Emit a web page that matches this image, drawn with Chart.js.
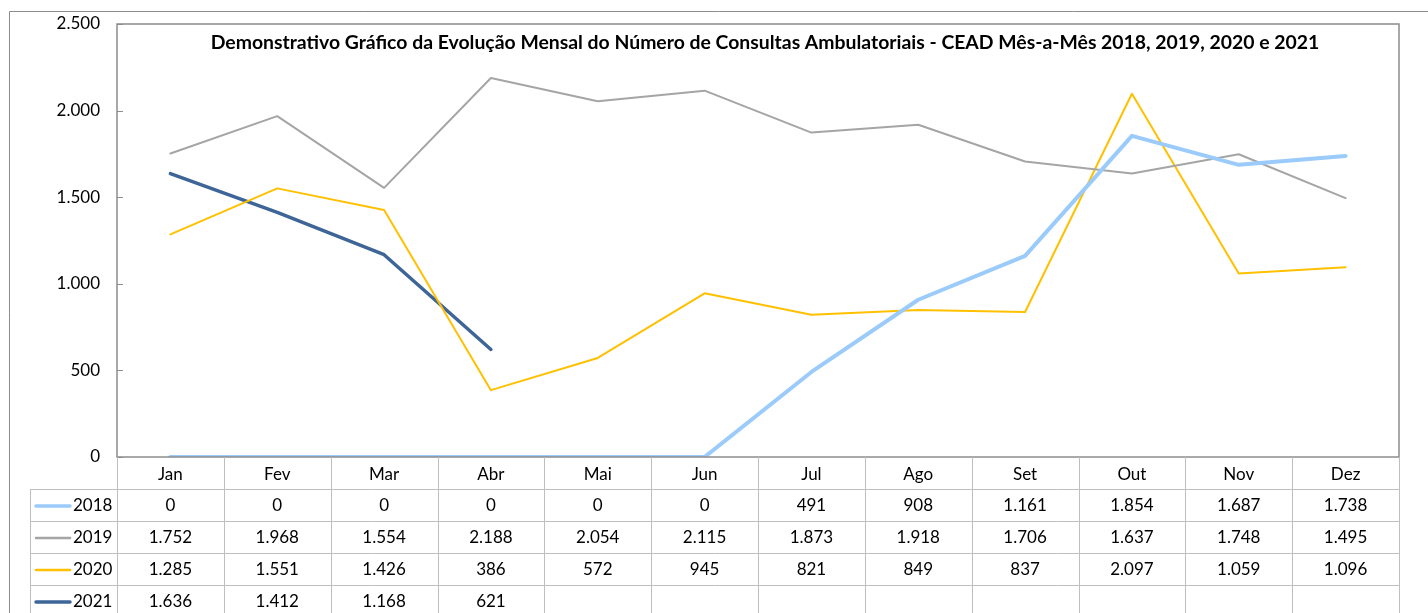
<!DOCTYPE html>
<html lang="pt">
<head>
  <meta charset="UTF-8" />
  <title>Consultas Ambulatoriais - CEAD</title>
  <script src="https://cdn.jsdelivr.net/npm/chart.js"></script>
  <style>
    body { margin: 0; background: #fff; }
    #wrap { width: 1428px; height: 613px; position: relative; }
  </style>
</head>
<body>
<div id="wrap"><canvas id="chart"></canvas></div>

<script>
const months = ["Jan", "Fev", "Mar", "Abr", "Mai", "Jun", "Jul", "Ago", "Set", "Out", "Nov", "Dez"];
const years = ["2018", "2019", "2020", "2021"];
const v2018 = [0, 0, 0, 0, 0, 0, 491, 908, 1161, 1854, 1687, 1738];
const v2019 = [1752, 1968, 1554, 2188, 2054, 2115, 1873, 1918, 1706, 1637, 1748, 1495];
const v2020 = [1285, 1551, 1426, 386, 572, 945, 821, 849, 837, 2097, 1059, 1096];
const v2021 = [1636, 1412, 1168, 621, null, null, null, null, null, null, null, null];
const yTicks = [0, 500, 1000, 1500, 2000, 2500];
const titleText = "Demonstrativo Gráfico da Evolução Mensal do Número de Consultas Ambulatoriais - CEAD Mês-a-Mês 2018, 2019, 2020 e 2021";

const colors = ["#9ACBFB", "#A5A5A5", "#FFC000", "#3E6597"];
const widths = [4, 2, 2, 3.5];
const FONT = "Lato, 'Liberation Sans', sans-serif";

// 1.234 style numbers
function fmt(v) {
  return String(v).replace(/\B(?=(\d{3})+(?!\d))/g, ".");
}

// outer frame, plot border, title and the data table under the chart
const tablePlugin = {
  id: "tablePlugin",
  beforeDraw(chart) {
    const ctx = chart.ctx;
    ctx.save();
    ctx.strokeStyle = "#8C8C8C";
    ctx.lineWidth = 1;
    ctx.beginPath();
    ctx.moveTo(9.5, 613); ctx.lineTo(9.5, 11.5); ctx.lineTo(1428, 11.5);
    ctx.stroke();
    ctx.restore();
  },
  afterDatasetsDraw(chart) {
    const ctx = chart.ctx;
    const a = chart.chartArea;
    const xs = chart.scales.x;
    const ys = chart.scales.y;
    ctx.save();

    // plot border
    ctx.strokeStyle = "#8C8C8C";
    ctx.lineWidth = 1.5;
    ctx.strokeRect(a.left, a.top, a.right - a.left, a.bottom - a.top);

    // inward y ticks
    ctx.lineWidth = 1;
    yTicks.forEach(t => {
      const y = Math.round(ys.getPixelForValue(t)) + 0.5;
      ctx.beginPath(); ctx.moveTo(a.left, y); ctx.lineTo(a.left + 6, y); ctx.stroke();
    });

    // title, sized so it spans like the original
    ctx.fillStyle = "#000";
    ctx.font = "bold 17px " + FONT;
    const w = ctx.measureText(titleText).width;
    const size = Math.min(20, 17 * 1108 / w);
    ctx.font = "bold " + size.toFixed(1) + "px " + FONT;
    ctx.textAlign = "center";
    ctx.textBaseline = "middle";
    ctx.fillText(titleText, 765, 43);

    // table grid
    const colW = (a.right - a.left) / months.length;
    const rowH = 32;
    const top = a.bottom;
    const headBottom = top + 32;
    ctx.strokeStyle = "#BFBFBF";
    ctx.lineWidth = 1;
    for (let k = 0; k <= months.length; k++) {
      const x = Math.round(a.left + k * colW) + 0.5;
      ctx.beginPath(); ctx.moveTo(x, top); ctx.lineTo(x, 613); ctx.stroke();
    }
    ctx.beginPath(); ctx.moveTo(30.5, headBottom); ctx.lineTo(30.5, 613); ctx.stroke();
    for (let r = 0; r <= years.length - 1; r++) {
      const y = headBottom + r * rowH + 0.5;
      ctx.beginPath(); ctx.moveTo(30, y); ctx.lineTo(a.right, y); ctx.stroke();
    }

    // rows
    ctx.font = "17px " + FONT;
    chart.data.datasets.forEach((ds, r) => {
      const cy = headBottom + r * rowH + rowH / 2 + 1;
      ctx.strokeStyle = colors[r];
      ctx.lineWidth = widths[r] > 3 ? 3.5 : 2.5;
      ctx.lineCap = "round";
      ctx.beginPath(); ctx.moveTo(36, cy); ctx.lineTo(70, cy); ctx.stroke();
      ctx.fillStyle = "#000";
      ctx.textAlign = "left";
      ctx.fillText(ds.label, 73, cy);
      ctx.textAlign = "center";
      ds.data.forEach((v, i) => {
        if (v === null) return;
        ctx.fillText(fmt(v), xs.getPixelForValue(i), cy);
      });
    });
    ctx.restore();
  }
};

const series = [v2018, v2019, v2020, v2021];

new Chart(document.getElementById("chart"), {
  type: "line",
  data: {
    labels: months,
    datasets: series.map((s, i) => ({
      label: years[i],
      data: s,
      borderColor: colors[i],
      backgroundColor: colors[i],
      borderWidth: widths[i],
      borderCapStyle: "round",
      borderJoinStyle: "round",
      pointRadius: 0,
      tension: 0,
      spanGaps: false
    }))
  },
  options: {
    responsive: true,
    maintainAspectRatio: false,
    animation: false,
    layout: { padding: { top: 24, right: 29, left: 0, bottom: 0 } },
    plugins: { legend: { display: false }, tooltip: { enabled: false } },
    scales: {
      x: {
        offset: true,
        grid: { display: false, drawTicks: false },
        border: { display: false },
        ticks: { color: "#000", font: { family: FONT, size: 17 }, padding: 7, maxRotation: 0 },
        afterFit(scale) { scale.height = 156; }
      },
      y: {
        min: 0, max: 2500,
        grid: { display: false, drawTicks: false },
        border: { display: false },
        ticks: {
          stepSize: 500, color: "#000", padding: 17,
          font: { family: FONT, size: 17 },
          callback: v => fmt(v)
        },
        afterFit(scale) {
          scale.width = 117;
          scale.paddingTop = 0;
          scale.paddingBottom = 0;
        }
      }
    }
  },
  plugins: [tablePlugin]
});
</script>
</body>
</html>
